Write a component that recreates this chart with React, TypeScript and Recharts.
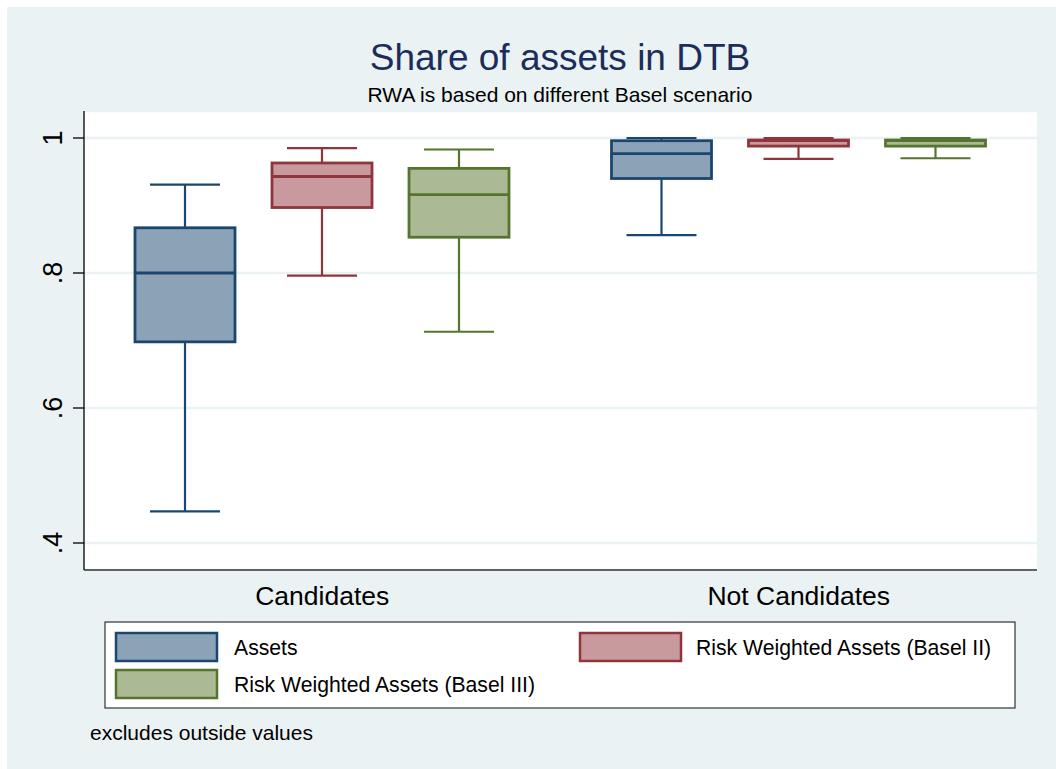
import { BarChart, Bar, XAxis, YAxis, CartesianGrid } from "recharts"

// five-number summaries per group: [lower whisker, q1, median, q3, upper whisker]
const categories = ["Candidates", "Not Candidates"]
const assets = [
  [0.447, 0.698, 0.8, 0.867, 0.931],
  [0.856, 0.94, 0.977, 0.996, 1.0],
]
const rwaBasel2 = [
  [0.796, 0.897, 0.943, 0.963, 0.985],
  [0.969, 0.988, 0.996, 0.997, 1.0],
]
const rwaBasel3 = [
  [0.713, 0.853, 0.916, 0.955, 0.983],
  [0.97, 0.988, 0.996, 0.997, 1.0],
]
const yTicks = [0.4, 0.6, 0.8, 1]
const seriesNames = ["Assets", "Risk Weighted Assets (Basel II)", "Risk Weighted Assets (Basel III)"]

const strokes = ["#1A476F", "#90353B", "#55752F"]
const fills = ["#8CA3B7", "#C89A9D", "#ABBA95"]
const bg = "#EAF2F3"
const font = "'Liberation Sans', Arial, sans-serif"

const data = categories.map((c, i) => ({
  category: c,
  assets: assets[i],
  basel2: rwaBasel2[i],
  basel3: rwaBasel3[i],
}))

const keys = ["assets", "basel2", "basel3"]

function boxShape(key: string, stroke: string, fill: string) {
  return (props: any) => {
    const { x, y, width, height, payload } = props
    const [lo, q1, med, q3, hi] = payload[key]
    // bar spans lo..hi, so map inner values linearly inside it
    const py = (v: number) => y + (hi === lo ? 0 : (height * (hi - v)) / (hi - lo))
    const cx = x + width / 2
    const cap = width * 0.7
    return (
      <g>
        <line x1={cx} x2={cx} y1={py(hi)} y2={py(q3)} stroke={stroke} strokeWidth={2.2} />
        <line x1={cx} x2={cx} y1={py(q1)} y2={py(lo)} stroke={stroke} strokeWidth={2.2} />
        <line x1={cx - cap / 2} x2={cx + cap / 2} y1={py(hi)} y2={py(hi)} stroke={stroke} strokeWidth={2.2} />
        <line x1={cx - cap / 2} x2={cx + cap / 2} y1={py(lo)} y2={py(lo)} stroke={stroke} strokeWidth={2.2} />
        <rect x={x} y={py(q3)} width={width} height={py(q1) - py(q3)} fill={fill} stroke={stroke} strokeWidth={2.8} />
        <line x1={x} x2={x + width} y1={py(med)} y2={py(med)} stroke={stroke} strokeWidth={2.8} />
      </g>
    )
  }
}

const fmt = (v: number) => (v === 1 ? "1" : v.toFixed(1).replace(/^0/, ""))

function YTick(props: any) {
  const { x, y, payload } = props
  return (
    <text
      x={x}
      y={y}
      transform={`rotate(-90 ${x} ${y})`}
      textAnchor="middle"
      fontFamily={font}
      fontSize={27}
      fill="#000"
    >
      {fmt(payload.value)}
    </text>
  )
}

function XTick(props: any) {
  const { x, y, payload } = props
  return (
    <text x={x} y={y} textAnchor="middle" fontFamily={font} fontSize={26.5} fill="#000">
      {payload.value}
    </text>
  )
}

const legendPos = [
  { sx: 109, sy: 626, tx: 227, ty: 648 },
  { sx: 573, sy: 626, tx: 689, ty: 648 },
  { sx: 109, sy: 663, tx: 227, ty: 685 },
]

export default function App() {
  return (
    <div style={{ position: "fixed", left: 7, top: 7, width: 1049, height: 762, background: bg }}>
      <BarChart
        width={1049}
        height={762}
        data={data}
        margin={{ top: 104, right: 19, bottom: 149, left: 0 }}
        barGap={37}
        style={{ position: "absolute", left: 0, top: 0 }}
      >
        <CartesianGrid vertical={false} fill="#FFFFFF" stroke={bg} strokeWidth={2.5} />
        <XAxis
          dataKey="category"
          height={50}
          tickSize={0}
          tickMargin={35}
          tickLine={false}
          axisLine={{ stroke: "#333", strokeWidth: 1.5 }}
          tick={<XTick />}
        />
        <YAxis
          type="number"
          domain={[0.36, 1.04]}
          allowDataOverflow
          ticks={yTicks}
          width={77}
          tickSize={11}
          tickMargin={11}
          axisLine={{ stroke: "#000", strokeWidth: 1.3 }}
          tickLine={{ stroke: "#000", strokeWidth: 1.3 }}
          tick={<YTick />}
        />
        {keys.map((k, i) => (
          <Bar
            key={k}
            dataKey={(d: any) => [d[k][0], d[k][4]]}
            barSize={100}
            isAnimationActive={false}
            shape={boxShape(k, strokes[i], fills[i])}
          />
        ))}
      </BarChart>
      <svg
        width={1049}
        height={762}
        style={{ position: "absolute", left: 0, top: 0, pointerEvents: "none" }}
        fontFamily={font}
      >
        <text x={553} y={63} textAnchor="middle" fontSize={37} fill="#1C2D5A">
          Share of assets in DTB
        </text>
        <text x={553} y={95} textAnchor="middle" fontSize={21} fill="#000">
          RWA is based on different Basel scenario
        </text>
        <rect x={98} y={615} width={910} height={86} fill="#FFFFFF" stroke="#333" strokeWidth={1.2} />
        {seriesNames.map((name, i) => (
          <g key={name}>
            <rect
              x={legendPos[i].sx}
              y={legendPos[i].sy}
              width={101}
              height={28}
              fill={fills[i]}
              stroke={strokes[i]}
              strokeWidth={2.5}
            />
            <text x={legendPos[i].tx} y={legendPos[i].ty} fontSize={21.2} fill="#000">
              {name}
            </text>
          </g>
        ))}
        <text x={83} y={733} fontSize={21} fill="#000">
          excludes outside values
        </text>
      </svg>
    </div>
  )
}
